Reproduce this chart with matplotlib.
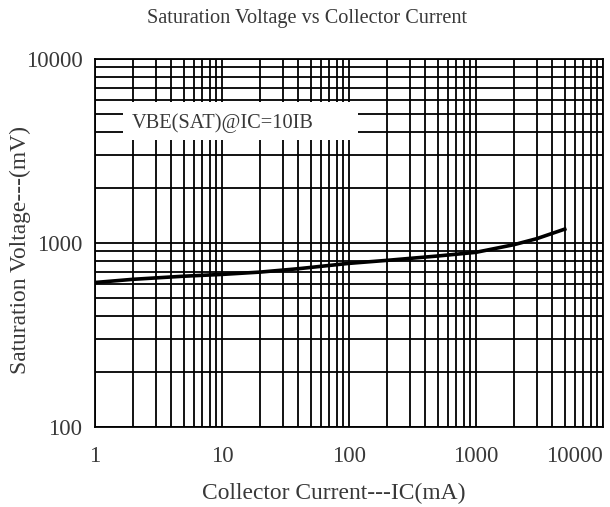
import matplotlib
matplotlib.use('Agg')
import matplotlib.pyplot as plt
from matplotlib.patches import Rectangle
from matplotlib.ticker import LogLocator, NullFormatter

# data (IC in mA, VBE(sat) in mV)
ic_ma = [1, 2, 5, 10, 20, 40, 100, 200, 500, 1000, 2000, 3000, 5000]
vbe_mv = [610, 635, 660, 675, 695, 725, 775, 805, 850, 890, 980, 1055, 1190]

x_ticks = [1, 10, 100, 1000, 10000]
x_tick_labels = ['1', '10', '100', '1000', '10000']
y_ticks = [100, 1000, 10000]
y_tick_labels = ['100', '1000', '10000']

plt.rcParams['font.family'] = ['Liberation Serif', 'DejaVu Serif']
txt_color = '#383838'

fig = plt.figure(figsize=(6.1, 5.07), dpi=100)
ax = fig.add_axes([0.1557, 0.1578, 0.8328, 0.7258])

ax.set_xscale('log')
ax.set_yscale('log')
ax.set_xlim(1, 10000)
ax.set_ylim(100, 10000)

ax.xaxis.set_minor_locator(LogLocator(base=10, subs=range(2, 10)))
ax.yaxis.set_minor_locator(LogLocator(base=10, subs=range(2, 10)))
ax.xaxis.set_minor_formatter(NullFormatter())
ax.yaxis.set_minor_formatter(NullFormatter())
ax.set_axisbelow(True)
ax.grid(which='both', color='black', linewidth=1.3)

ax.set_xticks(x_ticks)
ax.set_xticklabels(x_tick_labels)
ax.set_yticks(y_ticks)
ax.set_yticklabels(y_tick_labels)
ax.tick_params(which='both', length=0, labelsize=16.5, colors=txt_color)
ax.tick_params(axis='x', pad=14)
ax.tick_params(axis='y', pad=9)
ax.get_xticklabels()[-1].set_horizontalalignment('right')

for s in ax.spines.values():
    s.set_color('black')
    s.set_linewidth(1.3)

ax.plot(ic_ma, vbe_mv, color='black', linewidth=2.6, zorder=3)

# white label box over the grid
ax.add_patch(Rectangle((0.055, 0.780), 0.463, 0.103, transform=ax.transAxes,
                       facecolor='white', edgecolor='none', zorder=1))
ax.text(0.073, 0.826, 'VBE(SAT)@IC=10IB', transform=ax.transAxes,
        ha='left', va='center', fontsize=14.7, color=txt_color, zorder=2)

fig.text(0.503, 1 - 18 / 507, 'Saturation Voltage vs Collector Current',
         ha='center', va='center', fontsize=14.6, color=txt_color)
fig.text(334 / 610, 1 - 493 / 507, 'Collector Current---IC(mA)',
         ha='center', va='center', fontsize=16.9, color=txt_color)
fig.text(20 / 610, 1 - 250 / 507, 'Saturation Voltage---(mV)', rotation=90,
         ha='center', va='center', fontsize=16.9, color=txt_color)

fig.savefig('out.png', dpi=100, facecolor='white')
